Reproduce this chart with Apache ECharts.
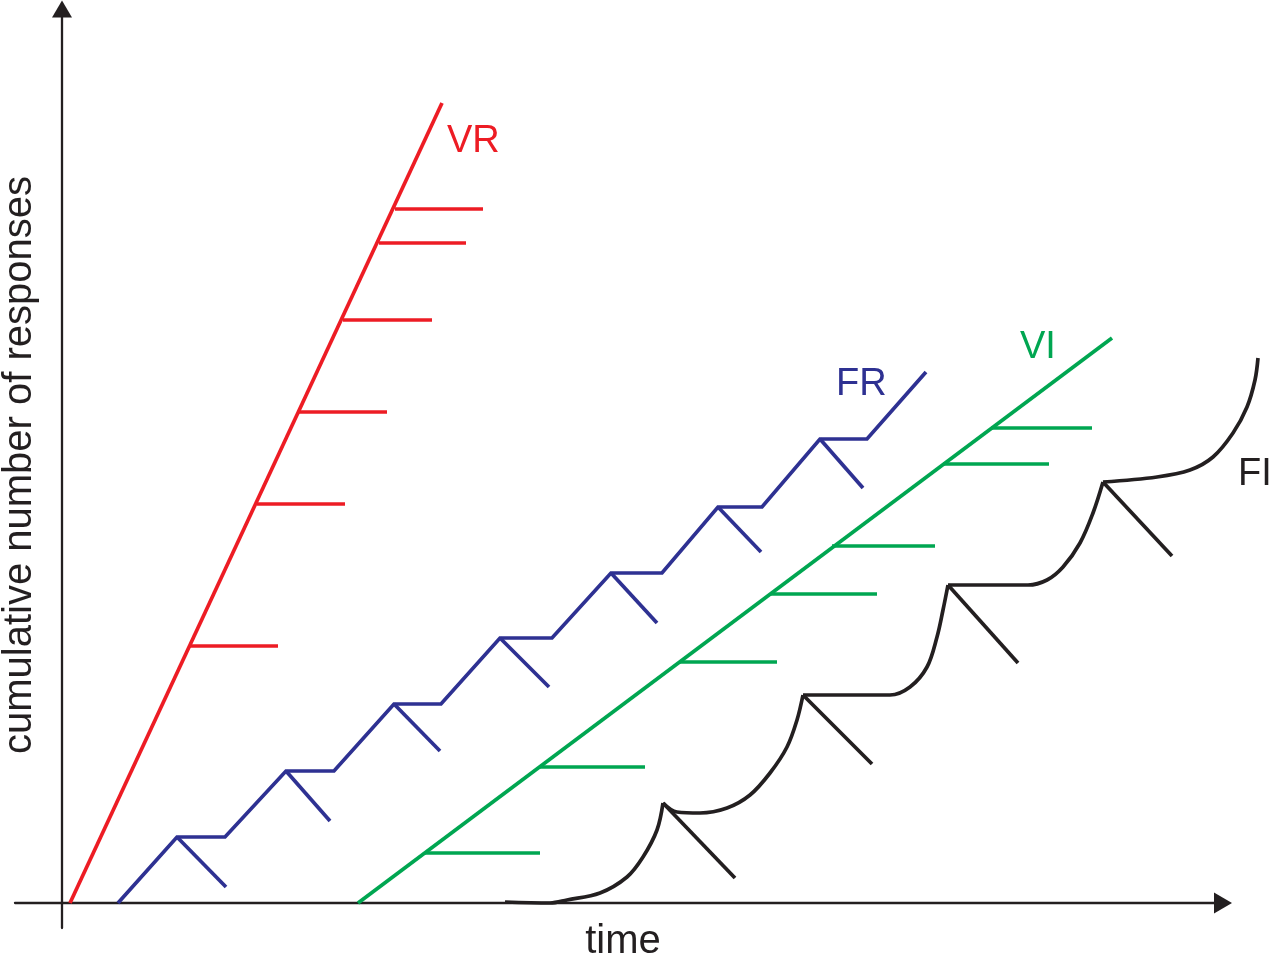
<!DOCTYPE html>
<html>
<head>
<meta charset="utf-8">
<script src="https://cdn.jsdelivr.net/npm/echarts@6/dist/echarts.min.js"></script>
<style>
html,body{margin:0;padding:0;background:#fff;}
#chart{width:1269px;height:957px;}
</style>
</head>
<body>
<div id="chart"></div>
<script>
// ---- data (time, cumulative responses) in arbitrary schematic units ----
const VR_LINE = [[8, 0], [380, 800]];
// [responses, time start, time end]
const VR_TICKS = [[694, 333, 421], [660, 317, 404], [583, 281, 370], [491, 237, 325], [399, 195, 283], [257, 127, 216]];

const FR_PATH = [[56, 0], [115, 66], [163, 66], [224, 132], [272, 132], [332, 199], [379, 199], [438, 265], [490, 265],
  [549, 330], [600, 330], [656, 396], [700, 396], [758, 464], [805, 464], [864, 531]];
// [[time, resp] start, [time, resp] end]
const FR_TICKS = [[[115, 66], [164, 16]], [[224, 132], [268, 82]], [[332, 199], [378, 152]], [[438, 265], [487, 216]],
  [[549, 330], [595, 280]], [[656, 396], [699, 351]], [[758, 464], [801, 415]]];

const VI_LINE = [[296, 0], [1050, 565]];
const VI_TICKS = [[50, 363, 478], [136, 478, 583], [241, 617, 715], [309, 708, 815], [357, 770, 873], [439, 881, 987], [475, 929, 1030]];

const FI_SEGMENTS = [
  [[443, 1], [488, 0], [505, 3], [538, 10], [565, 26], [581, 46], [595, 73], [601, 100]],
  [[601, 100], [615, 91], [638, 90], [665, 95], [688, 108], [708, 130], [725, 156], [735, 183], [741, 208]],
  [[741, 208], [828, 208], [848, 216], [865, 236], [875, 266], [881, 293], [886, 318]],
  [[886, 318], [966, 318], [985, 323], [1001, 336], [1018, 360], [1031, 390], [1041, 421]],
  [[1041, 421], [1095, 426], [1128, 433], [1151, 446], [1171, 470], [1185, 496], [1193, 523], [1196, 545]]
];
const FI_TICKS = [[[601, 100], [673, 25]], [[741, 208], [810, 139]], [[886, 318], [956, 240]], [[1041, 421], [1110, 347]]];

const SERIES_NAMES = ['VR', 'FR', 'VI', 'FI'];
const LABEL_ANCHORS = [[385, 761], [774, 518], [958, 555], [1176, 428]];
const X_NAME = 'time';
const Y_NAME = 'cumulative number of responses';

// ---- styling ----
const COLORS = { VR: '#ED1C24', FR: '#2E3192', VI: '#00A651', FI: '#231F20' };
const AXIS_COLOR = '#231F20';
const FONT = '"Liberation Sans", Arial, Helvetica, sans-serif';
const LW = 3.7;

function lineSeries(data, color, smooth) {
  return {
    type: 'line', data: data, symbol: 'none', clip: false, silent: true,
    xAxisIndex: 0, yAxisIndex: 0,
    smooth: smooth ? 0.35 : false,
    lineStyle: { color: color, width: LW, cap: 'butt', join: 'miter' }
  };
}

const series = [];
series.push(lineSeries(VR_LINE, COLORS.VR));
VR_TICKS.forEach(t => series.push(lineSeries([[t[1], t[0]], [t[2], t[0]]], COLORS.VR)));
series.push(lineSeries(FR_PATH, COLORS.FR));
FR_TICKS.forEach(t => series.push(lineSeries(t, COLORS.FR)));
series.push(lineSeries(VI_LINE, COLORS.VI));
VI_TICKS.forEach(t => series.push(lineSeries([[t[1], t[0]], [t[2], t[0]]], COLORS.VI)));
FI_SEGMENTS.forEach(s => series.push(lineSeries(s, COLORS.FI, true)));
FI_TICKS.forEach(t => series.push(lineSeries(t, COLORS.FI)));

series.push({
  type: 'scatter', clip: false, silent: true, symbol: 'circle', symbolSize: 0,
  xAxisIndex: 0, yAxisIndex: 0,
  itemStyle: { opacity: 1, color: 'transparent' },
  data: SERIES_NAMES.map((n, i) => ({
    value: LABEL_ANCHORS[i], name: n, label: { color: COLORS[n] }
  })),
  label: {
    show: true, position: 'inside', align: 'left', verticalAlign: 'middle',
    formatter: p => p.name, fontFamily: FONT, fontSize: 38
  }
});

const hiddenAxis = { axisLine: { show: false }, axisTick: { show: false }, axisLabel: { show: false }, splitLine: { show: false } };

const chart = echarts.init(document.getElementById('chart'), null, { renderer: 'canvas' });
chart.setOption({
  animation: false,
  backgroundColor: '#fff',
  grid: [
    // plotting area for the marks (whole canvas)
    { left: 0, right: 0, top: 0, bottom: 0, containLabel: false, outerBoundsMode: 'none' },
    // axes frame with arrows
    { left: 15, right: 46, top: 9, bottom: 29, containLabel: false, outerBoundsMode: 'none' }
  ],
  xAxis: [
    Object.assign({ type: 'value', gridIndex: 0, min: -62, max: 1207 }, hiddenAxis),
    {
      type: 'value', gridIndex: 1, min: -47, max: 1161,
      axisLine: { show: true, onZero: true, symbol: ['none', 'triangle'], symbolSize: [21, 18],
        lineStyle: { color: AXIS_COLOR, width: 2.3 } },
      axisTick: { show: false }, axisLabel: { show: false }, splitLine: { show: false }
    }
  ],
  yAxis: [
    Object.assign({ type: 'value', gridIndex: 0, min: -54, max: 903 }, hiddenAxis),
    {
      type: 'value', gridIndex: 1, min: -25, max: 894,
      axisLine: { show: true, onZero: true, symbol: ['none', 'triangle'], symbolSize: [20, 17],
        lineStyle: { color: AXIS_COLOR, width: 2.3 } },
      axisTick: { show: false }, axisLabel: { show: false }, splitLine: { show: false }
    }
  ],
  graphic: [
    { type: 'text', x: 623, y: 942, silent: true,
      style: { text: X_NAME, fontFamily: FONT, fontSize: 40, fill: AXIS_COLOR, align: 'center', verticalAlign: 'middle' } },
    { type: 'text', x: 20, y: 465, rotation: Math.PI / 2, silent: true,
      style: { text: Y_NAME, fontFamily: FONT, fontSize: 40, fill: AXIS_COLOR, align: 'center', verticalAlign: 'middle' } }
  ],
  series: series
});
</script>
</body>
</html>
